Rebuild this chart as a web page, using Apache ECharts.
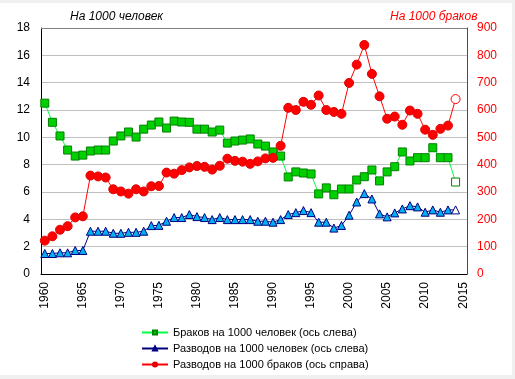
<!DOCTYPE html>
<html><head><meta charset="utf-8">
<script src="https://cdn.jsdelivr.net/npm/echarts@6/dist/echarts.min.js"></script>
<style>
html,body{margin:0;padding:0;background:#f0f0f0;}
#c{position:absolute;left:0;top:3px;width:512px;height:372px;background:#fff;}
</style></head>
<body><div id="c"></div>
<script>
const years = [];
for (let y = 1960; y <= 2015; y++) years.push(String(y));

const marriagesPer1000 = [12.5,11.1,10.1,9.07,8.63,8.7,9.0,9.07,9.07,9.73,10.1,10.39,10.02,10.6,10.9,11.12,10.68,11.19,11.12,11.1,
10.6,10.6,10.39,10.53,9.58,9.73,9.8,9.88,9.51,9.36,8.93,8.63,7.1,7.47,7.39,7.32,5.86,6.3,5.8,6.22,
6.22,6.88,7.12,7.61,6.81,7.47,7.85,8.93,8.27,8.51,8.51,9.24,8.51,8.51,6.73,null];

const divorcesPer1000 = [1.5,1.5,1.55,1.55,1.72,1.72,3.13,3.13,3.13,2.98,2.98,3.05,3.05,3.13,3.54,3.56,3.86,4.13,4.13,4.35,
4.2,4.13,3.98,4.13,3.98,3.98,3.98,3.98,3.86,3.86,3.79,3.98,4.35,4.49,4.64,4.49,3.79,3.79,3.36,3.55,
4.3,5.27,5.88,5.49,4.4,4.18,4.47,4.76,5.0,4.91,4.52,4.69,4.52,4.69,4.69,null];

const divorcesPerMarriages = [122,138,162,175,207,211,360,357,353,310,302,294,310,302,321,322,371,367,380,390,
395,392,382,396,422,414,411,403,412,423,425,469,608,600,630,619,653,600,593,586,
699,766,838,732,650,568,576,546,598,586,528,509,531,543,640,null];

const seriesNames = ['Браков на 1000 человек (ось слева)','Разводов на 1000 человек (ось слева)','Разводов на 1000 браков (ось справа)'];
const leftTicks = {min:0, max:18, interval:2};
const rightTicks = {min:0, max:900, interval:100};
const hollowIndex = 54;

const chart = echarts.init(document.getElementById('c'), null, {renderer:'canvas'});
const font = 'Liberation Sans, Arial, sans-serif';
function titles(extra){
  return [
    {type:'text', left:70, top:8, style:{text:'На 1000 человек', font:'italic 12px '+font, fill:'#000'}},
    {type:'text', left:390, top:8, style:{text:'На 1000 браков', font:'italic 12px '+font, fill:'#ff0000'}}
  ].concat(extra||[]);
}
function withHollow(arr, border){
  return arr.map((v,i)=> i===hollowIndex ? {value:v, itemStyle:{color:'#fff', borderColor:border}} : v);
}
chart.setOption({
  animation:false,
  textStyle:{fontFamily:font},
  grid:{left:41, right:45, top:25, bottom:101, containLabel:false},
  graphic:titles(),
  legend:{
    orient:'vertical', left:136, top:319, itemWidth:26, itemHeight:5, itemGap:5,
    textStyle:{fontSize:11, color:'#000', fontFamily:font},
    data:seriesNames
  },
  xAxis:{
    type:'category', data:years, boundaryGap:true,
    axisLine:{lineStyle:{color:'#000', width:1}},
    axisTick:{show:false},
    axisLabel:{interval:4, rotate:90, fontSize:12, color:'#000', margin:8, fontFamily:font},
    splitLine:{show:false}
  },
  yAxis:[
    {type:'value', min:leftTicks.min, max:leftTicks.max, interval:leftTicks.interval, position:'left',
     axisLine:{show:true, lineStyle:{color:'#000'}}, axisTick:{show:false},
     axisLabel:{fontSize:12, color:'#000', margin:11, fontFamily:font},
     splitLine:{show:true, lineStyle:{color:'#c0c0c0', width:1}}},
    {type:'value', min:rightTicks.min, max:rightTicks.max, interval:rightTicks.interval, position:'right',
     axisLine:{show:true, lineStyle:{color:'#ff0000'}}, axisTick:{show:false},
     axisLabel:{fontSize:12, color:'#ff0000', margin:10, fontFamily:font},
     splitLine:{show:false}}
  ],
  series:[
    {name:seriesNames[0], type:'line', yAxisIndex:0,
     data:withHollow(marriagesPer1000,'#008000'),
     symbol:'rect', symbolSize:8, showAllSymbol:true,
     lineStyle:{color:'#00ff40', width:1},
     itemStyle:{color:'#00d000', borderColor:'#008000', borderWidth:1}, z:3},
    {name:seriesNames[1], type:'line', yAxisIndex:0,
     data:withHollow(divorcesPer1000,'#000080'),
     symbol:'triangle', symbolSize:8, showAllSymbol:true,
     lineStyle:{color:'#000080', width:1},
     itemStyle:{color:'#00b0f0', borderColor:'#000080', borderWidth:1}, z:3},
    {name:seriesNames[2], type:'line', yAxisIndex:1,
     data:withHollow(divorcesPerMarriages,'#ff0000'),
     symbol:'circle', symbolSize:9, showAllSymbol:true,
     lineStyle:{color:'#ff0000', width:1},
     itemStyle:{color:'#ff0000', borderColor:'#e00000', borderWidth:1}, z:3}
  ]
});
const gr = chart.getModel().getComponent('grid').coordinateSystem.getRect();
chart.setOption({graphic:titles([
  {type:'line', shape:{x1:gr.x, y1:gr.y+0.5, x2:gr.x+gr.width, y2:gr.y+0.5}, style:{stroke:'#808080', lineWidth:1}, z:10}
])});
</script></body></html>
